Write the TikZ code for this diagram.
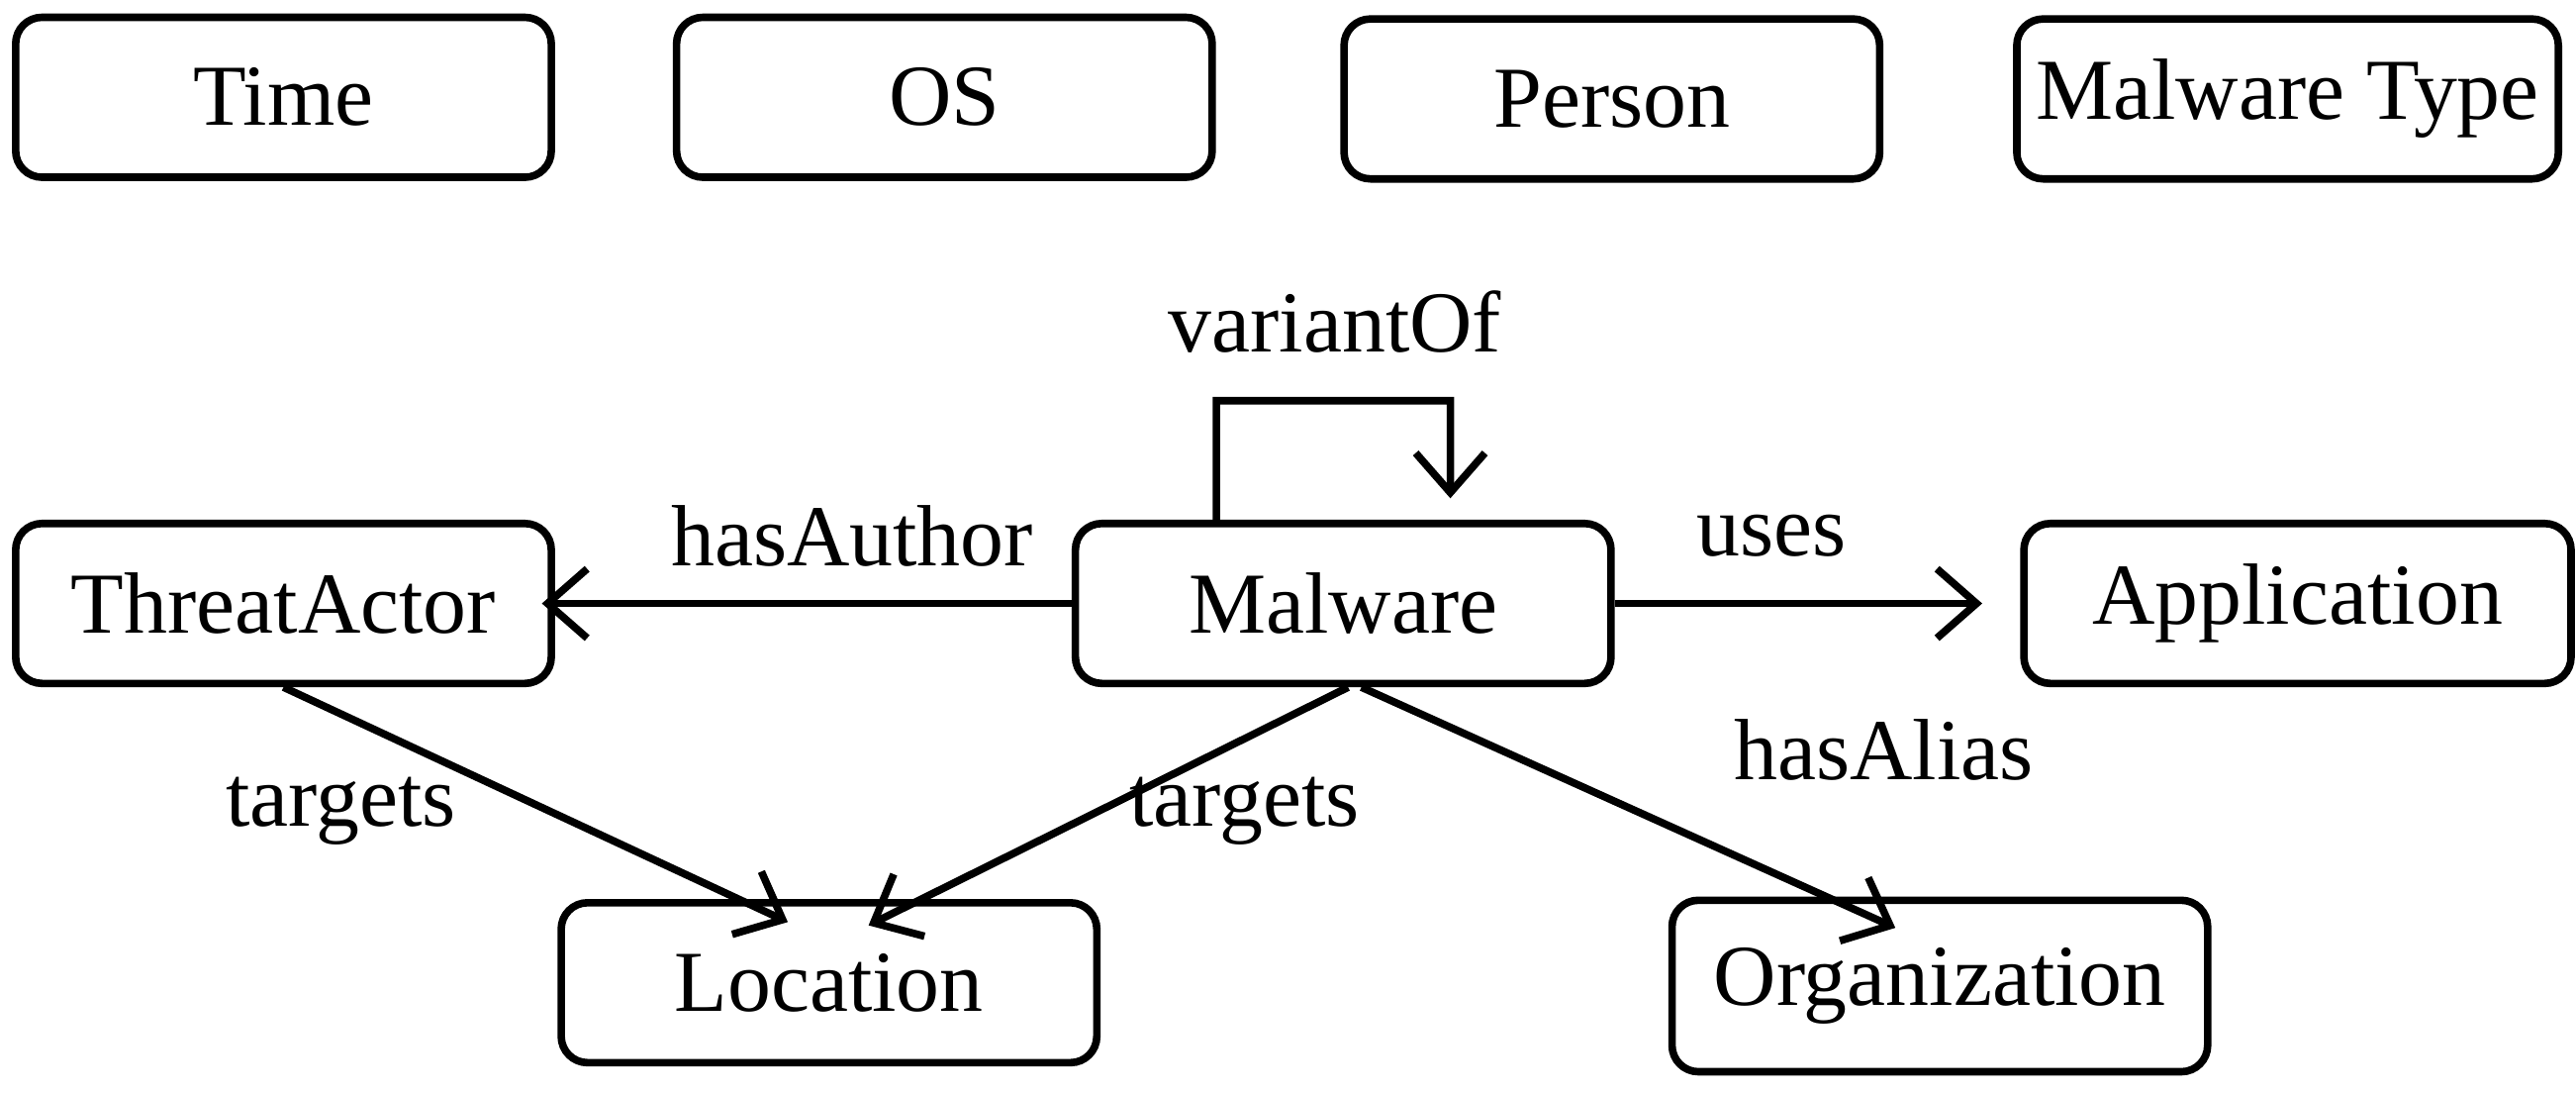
\documentclass[tikz,border=0pt]{standalone}
\usepackage{fontspec}
\setmainfont{Liberation Serif}
\usetikzlibrary{arrows.meta}
\tikzset{
  box/.style={draw, line width=1.3pt, rounded corners=1.6mm, minimum width=32.5mm, minimum height=9.7mm, font=\fontsize{15}{18}\selectfont},
  rel/.style={line width=1.3pt, -{Straight Barb[length=2.4mm,width=4.2mm]}},
  lbl/.style={font=\fontsize{15}{18}\selectfont}
}
\begin{document}
\begin{tikzpicture}[x=0.1mm,y=-0.1mm]
            \useasboundingbox (0,0) rectangle (1563,663);
            % Boxes
            \node[box] (time) at (172,59) {Time};
            \node[box] (os) at (573,59) {OS};
            \node[box] (person) at (978,60) {Person};
            \node[box] (mtype) at (1388,60) {Malware Type};
            \node[box] (tact) at (172,366) {ThreatActor};
            \node[box] (mal) at (815,366) {Malware};
            \node[box, minimum width=33.2mm] (app) at (1394,366) {Application};
            \node[box] (loc) at (503,596) {Location};
            \node[box, minimum height=10.4mm] (org) at (1177,598) {Organization};

            % Arrows
            \draw[rel] (mal.west) -- ([xshift=-0.8mm]tact.east);
            \draw[rel] (mal.east) -- ([xshift=-2.3mm]app.west);
            \coordinate (loopa) at (738,243);
            \coordinate (loopb) at (880,243);
            \draw[rel] ([xshift=-7.7mm]mal.north) -- (loopa) -- (loopb) -- ([xshift=6.5mm,yshift=1.3mm]mal.north);
            \draw[rel] (tact.south) -- ([xshift=-2.5mm,yshift=-1.4mm]loc.north);
            \draw[rel] ([xshift=0.3mm]mal.south) -- ([xshift=2.4mm,yshift=-1.6mm]loc.north);
            \draw[rel] ([xshift=1.1mm]mal.south) -- ([xshift=-2.7mm,yshift=-1.9mm]org.north);

            % Labels
            \node[lbl] (l1) at (517,325) {hasAuthor};
            \node[lbl] (l2) at (1075,325) {uses};
            \node[lbl] (l3) at (810,195) {variantOf};
            \node[lbl] (l4) at (207,492) {targets};
            \node[lbl] (l5) at (755,492) {targets};
            \node[lbl] (l6) at (1143,455) {hasAlias};
\end{tikzpicture}
\end{document}
